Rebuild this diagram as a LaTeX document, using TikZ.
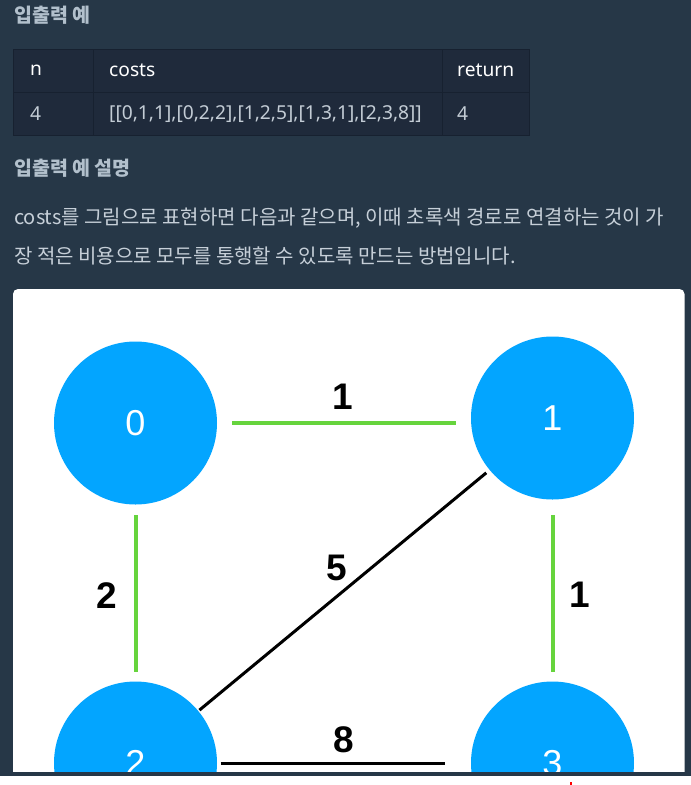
\documentclass[tikz,border=0pt]{standalone}
\usepackage{fontspec}
\setmainfont{Noto Sans}
\newfontfamily\kr{Noto Sans CJK KR}
\newfontfamily\arial{Liberation Sans}
\usetikzlibrary{calc}
\definecolor{pagebg}{HTML}{263747}
\definecolor{tablebg}{HTML}{1F2A3B}
\definecolor{tableline}{HTML}{172130}
\definecolor{headtxt}{HTML}{B2C0CC}
\definecolor{paratxt}{HTML}{C6CFD8}
\definecolor{celltxt}{HTML}{C3CCD5}
\definecolor{nodeblue}{HTML}{03A5FF}
\definecolor{edgegreen}{HTML}{66D43D}
\tikzset{
  heading/.style={anchor=west, inner sep=0, text=headtxt, font=\kr\bfseries\fontsize{19.5}{22}\selectfont},
  para/.style={anchor=west, inner sep=0, text=paratxt, font=\kr\fontsize{20}{24}\selectfont},
  headcell/.style={anchor=west, inner sep=0, text=white, font=\fontsize{19.2}{22}\selectfont},
  datacell/.style={anchor=west, inner sep=0, text=celltxt, font=\fontsize{19.2}{22}\selectfont},
  vertex/.style={circle, fill=nodeblue, minimum size=163pt, inner sep=0, text=white, font=\arial\fontsize{36}{40}\selectfont},
  weight/.style={inner sep=0, text=black, font=\arial\bfseries\fontsize{37}{40}\selectfont},
  chosen/.style={draw=edgegreen, line width=4pt},
  other/.style={draw=black, line width=3pt},
}
\begin{document}
\begin{tikzpicture}[x=1pt, y=-1pt]
\useasboundingbox (0,0) rectangle (691,785);
\fill[pagebg] (0,0) rectangle (691,785);
% headings and paragraph
\node[heading] (h1) at (14,15) {입출력 예};
\node[heading] (h2) at (14,168) {입출력 예 설명};
\node[para] (p1) at (14,218) {costs를 그림으로 표현하면 다음과 같으며, 이때 초록색 경로로 연결하는 것이 가};
\node[para] (p2) at (14,256) {장 적은 비용으로 모두를 통행할 수 있도록 만드는 방법입니다.};
% table
\fill[tablebg] (13,49) rectangle (529,135.5);
\draw[tableline, line width=1pt] (13,49) rectangle (529,135.5);
\draw[tableline, line width=1pt] (13,92.5) -- (529,92.5);
\draw[tableline, line width=1pt] (93,49) -- (93,135.5);
\draw[tableline, line width=1pt] (442,49) -- (442,135.5);
\node[headcell] (tn) at (30,70.5) {n};
\node[headcell] (tc) at (109,70.5) {costs};
\node[headcell] (tr) at (457,70.5) {return};
\node[datacell] (dn) at (30,114) {4};
\node[datacell] (dc) at (109,114) {[[0,1,1],[0,2,2],[1,2,5],[1,3,1],[2,3,8]]};
\node[datacell] (dr) at (457,114) {4};
% white panel
\fill[white, rounded corners=5pt] (13,289) rectangle (684.5,790);
% graph
\node[vertex] (n0) at (135.5,423) {0};
\node[vertex] (n1) at (552.5,418) {1};
\node[vertex] (n2) at (135.5,763) {2};
\node[vertex] (n3) at (552.5,763) {3};
\draw[chosen, shorten <=96.5pt, shorten >=96.5pt] (n0.center) -- (n0.center -| n1.center);
\draw[chosen, shorten <=92pt, shorten >=91pt] (n0.center) -- (n2.center);
\draw[chosen, shorten <=97pt, shorten >=91pt] (n1.center) -- (n3.center);
\draw[other, shorten <=86pt, shorten >=83pt] (n1.center) -- (n2.center);
\draw[other, shorten <=85pt, shorten >=108pt] (n2.center) -- (n3.center);
\node[weight] (w01) at (343,397) {1};
\node[weight] (w02) at (107,596) {2};
\node[weight] (w12) at (337,568) {5};
\node[weight] (w13) at (580,595) {1};
\node[weight] (w23) at (344,740) {8};
% bottom strips
\fill[pagebg] (0,772) rectangle (691,776);
\fill[pagebg] (684.5,289) rectangle (691,776);
\fill[white] (0,776) rectangle (691,785);
\fill[red] (570,782) rectangle (571.5,785);
\end{tikzpicture}
\end{document}
